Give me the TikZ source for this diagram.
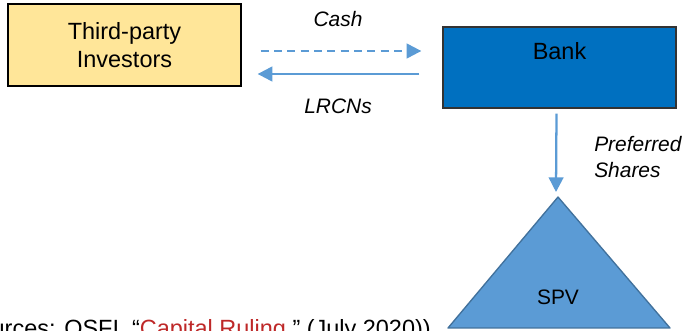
\documentclass[tikz,border=0pt]{standalone}
\usepackage{fontspec}
\setmainfont{Liberation Sans}
\usepackage{tikz}
\usetikzlibrary{
  % enables the filled arrow heads
  arrows.meta,%
  calc,%
  positioning
}
\definecolor{investorfill}{RGB}{255,230,153}
\definecolor{bankblue}{RGB}{0,112,192}
\definecolor{flowblue}{RGB}{91,155,213}
\definecolor{spvline}{RGB}{65,113,156}
\definecolor{linkred}{RGB}{190,40,40}
\tikzset{>={Triangle[length=11pt,width=11pt]}}
\tikzset{font=\fontsize{15.7}{19}\selectfont}
\tikzset{party/.style={draw, rectangle, inner sep=0pt, align=center,
    minimum width=174.75pt, minimum height=61.5pt,
    font=\fontsize{17.6}{21}\selectfont},
  flow/.style={->, flowblue, line width=1.7pt},
  flowlabel/.style={font=\fontsize{15.7}{19}\selectfont\itshape}}

\begin{document}
\begin{tikzpicture}[x=0.75pt, y=-0.75pt]
        \useasboundingbox (0,0) rectangle (686,331);
        \node[party, fill=investorfill, line width=1pt] (investors) at (124.5,45) {Third-party\\Investors};
        \node[party, fill=bankblue, draw=black!80, line width=1pt, minimum height=60.75pt,
          label={[anchor=north, yshift=-8.5pt, font=\fontsize{17.6}{21}\selectfont]north:Bank}] (bank) at (559.5,67.5) {};
        \draw[flow, dash pattern=on 6pt off 4pt] ($(investors.east)+(19,6)$) -- ($(bank.west)+(-21,-16.5)$);
        \draw[flow] ($(bank.west)+(-23,6.5)$) -- ($(investors.east)+(16,29)$);
        \node[flowlabel] (cash) at (338,19) {Cash};
        \node[flowlabel] (lrcns) at (338,106) {LRCNs};
        % the SPV triangle
        \coordinate (spvtop) at (558,197);
        \draw[fill=flowblue, draw=spvline, line width=1pt, line join=round] (spvtop) -- (448,328) -- (670,328) -- cycle;
        \node (spv) at (558,297) {SPV};
        \draw[flow] ($(bank.south)+(-3,5)$) -- ($(spvtop)+(-2,-5)$);
        \node[flowlabel, anchor=west, align=left, inner sep=0pt] (shares) at (594,157) {Preferred\\Shares};
        \node[anchor=base east, inner sep=0pt, font=\fontsize{17.6}{21}\selectfont] (source) at (431,337)
          {(Sources: OSFI, “\textcolor{linkred}{Capital Ruling},” (July 2020))};
      \end{tikzpicture}
\end{document}
